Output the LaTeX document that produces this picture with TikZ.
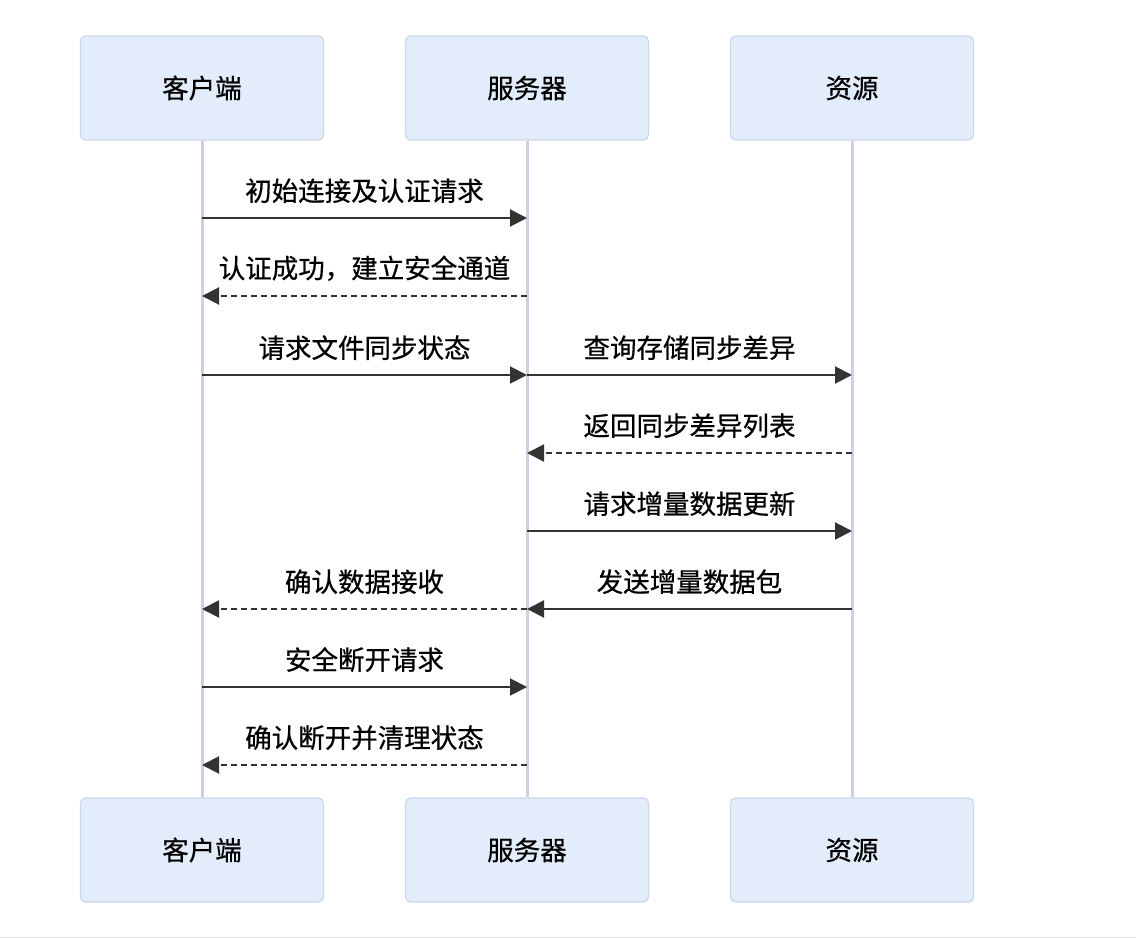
\documentclass[tikz,border=0pt]{standalone}
\usepackage{fontspec}
\setmainfont{Noto Sans CJK SC}[FakeBold=0.6]
\usetikzlibrary{arrows.meta}
\definecolor{boxfill}{HTML}{E3ECFA}
\definecolor{boxline}{HTML}{C9D8EC}
\definecolor{lifeline}{HTML}{D3CEE8}
\definecolor{msgcol}{HTML}{333333}
\definecolor{edgeline}{HTML}{E6E6E6}
\begin{document}
\begin{tikzpicture}[x=1pt,y=-1pt,
  actor/.style={draw=boxline,fill=boxfill,line width=1.2pt,rounded corners=5pt,
    minimum width=243pt,minimum height=104pt,inner sep=0pt,font=\fontsize{26.5}{30}\selectfont,text=black},
  life/.style={draw=lifeline,line width=3pt},
  msg/.style={draw=msgcol,line width=2pt,-{Triangle[length=17pt,width=17pt]}},
  reply/.style={msg,dash pattern=on 6pt off 4pt},
  lbl/.style={font=\fontsize{26.5}{30}\selectfont,text=black,inner sep=0pt}]
\useasboundingbox[fill=white] (0,0) rectangle (1136,939);
\draw[edgeline,line width=1pt] (0,937.5) -- (1136,937.5);
% actors
\node[actor] (c1) at (202,88) {客户端};
\node[actor] (s1) at (527,88) {服务器};
\node[actor] (r1) at (852,88) {资源};
\node[actor] (c2) at (202,850) {客户端};
\node[actor] (s2) at (527,850) {服务器};
\node[actor] (r2) at (852,850) {资源};
% lifelines
\draw[life] (c1.south) -- (c2.north);
\draw[life] (s1.south) -- (s2.north);
\draw[life] (r1.south) -- (r2.north);
% messages
\draw[msg] (c1.south |- 0,218) -- (s1.south |- 0,218) node[lbl,midway,above=14pt] {初始连接及认证请求};
\draw[reply] (s1.south |- 0,296) -- (c1.south |- 0,296) node[lbl,midway,above=14pt] {认证成功，建立安全通道};
\draw[msg] (c1.south |- 0,375) -- (s1.south |- 0,375) node[lbl,midway,above=14pt] {请求文件同步状态};
\draw[msg] (s1.south |- 0,375) -- (r1.south |- 0,375) node[lbl,midway,above=14pt] {查询存储同步差异};
\draw[reply] (r1.south |- 0,453) -- (s1.south |- 0,453) node[lbl,midway,above=14pt] {返回同步差异列表};
\draw[msg] (s1.south |- 0,531) -- (r1.south |- 0,531) node[lbl,midway,above=14pt] {请求增量数据更新};
\draw[msg] (r1.south |- 0,609) -- (s1.south |- 0,609) node[lbl,midway,above=14pt] {发送增量数据包};
\draw[reply] (s1.south |- 0,609) -- (c1.south |- 0,609) node[lbl,midway,above=14pt] {确认数据接收};
\draw[msg] (c1.south |- 0,687) -- (s1.south |- 0,687) node[lbl,midway,above=14pt] {安全断开请求};
\draw[reply] (s1.south |- 0,765) -- (c1.south |- 0,765) node[lbl,midway,above=14pt] {确认断开并清理状态};
\end{tikzpicture}
\end{document}
